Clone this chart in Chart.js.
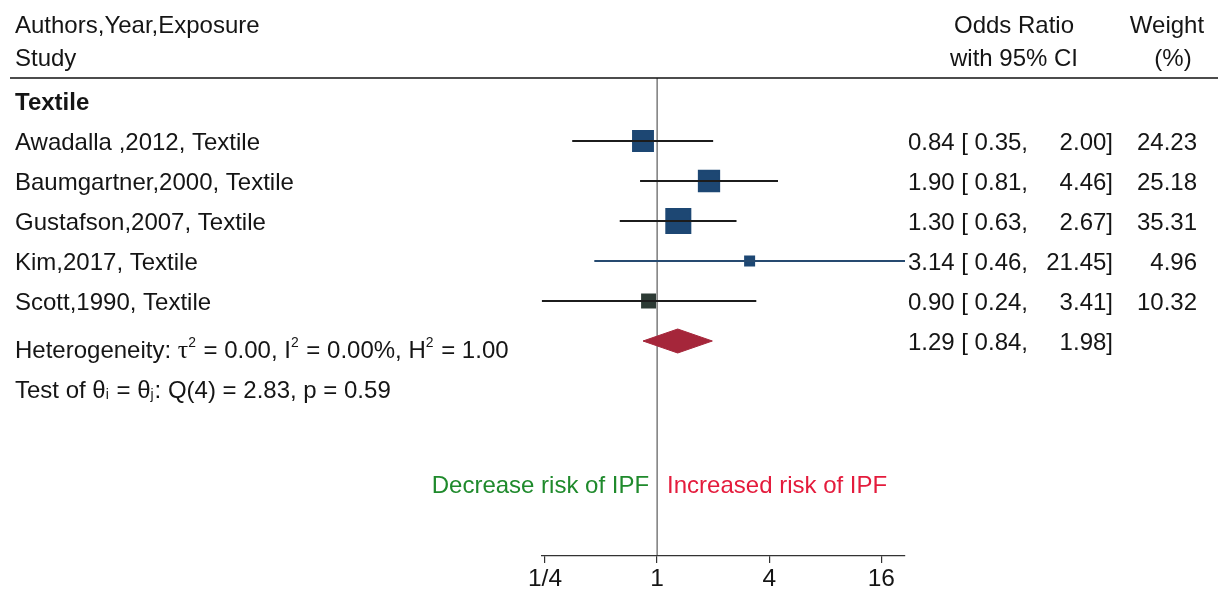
<!DOCTYPE html>
<html>
<head>
<meta charset="utf-8">
<script src="https://cdn.jsdelivr.net/npm/chart.js@4.4.1/dist/chart.umd.min.js"></script>
<style>
  html, body { margin: 0; padding: 0; background: #fff; }
  #wrap { width: 1221px; height: 591px; }
</style>
</head>
<body>
<div id="wrap"><canvas id="forest"></canvas></div>
<script>
// Study level odds ratios (95% CI) and random-effects weights
const studies = ['Awadalla ,2012, Textile', 'Baumgartner,2000, Textile', 'Gustafson,2007, Textile', 'Kim,2017, Textile', 'Scott,1990, Textile'];
const oddsRatio = [0.84, 1.90, 1.30, 3.14, 0.90];
const lowerCI = [0.35, 0.81, 0.63, 0.46, 0.24];
const upperCI = [2.00, 4.46, 2.67, 21.45, 3.41];
const weights = [24.23, 25.18, 35.31, 4.96, 10.32];

// Pooled estimate: lower, estimate, upper
const pooled = [0.84, 1.29, 1.98];

const xTicks = [0.25, 1, 4, 16];
const xTickLabels = ['1/4', '1', '4', '16'];

const groupName = 'Textile';
const heterogeneity = [
  { t: 'Heterogeneity: ' }, { t: 'τ', serif: true }, { t: '2', sup: true },
  { t: ' = 0.00, I' }, { t: '2', sup: true }, { t: ' = 0.00%, H' }, { t: '2', sup: true }, { t: ' = 1.00' }
];
const homogeneityTest = [
  { t: 'Test of θ' }, { t: 'i', sub: true }, { t: ' = θ' }, { t: 'j', sub: true }, { t: ': Q(4) = 2.83, p = 0.59' }
];

const FONT = '"Liberation Sans", Arial, sans-serif';
const SERIF = '"Liberation Serif", "Times New Roman", serif';
const SIZE = 24;
const TEXT = '#151515';
const DY = 2; // optical nudge for 'middle' baseline

// rows on the y scale: 0 = group heading, 1..5 = studies, 6 = pooled, 7 = test line
const studyRows = studies.map((_, i) => i + 1);
const pooledRow = studies.length + 1;

const fmt = v => v.toFixed(2);

function drawRich(ctx, parts, x, y) {
  const base = y + SIZE * 0.36;
  let cx = x;
  parts.forEach(p => {
    const small = p.sup || p.sub;
    const s = small ? SIZE * 0.58 : (p.serif ? SIZE * 1.08 : SIZE);
    ctx.font = `${s}px ${p.serif ? SERIF : FONT}`;
    const dy = p.sup ? -SIZE * 0.36 : p.sub ? SIZE * 0.14 : 0;
    ctx.fillText(p.t, cx, base + dy);
    cx += ctx.measureText(p.t).width + (small ? 1 : 0);
  });
}

const forestText = {
  id: 'forestText',
  beforeDatasetsDraw(chart) {
    const { ctx, chartArea, scales: { x } } = chart;
    const x1 = x.getPixelForValue(1);
    ctx.save();
    // line of no effect
    ctx.strokeStyle = '#3a3a3a';
    ctx.lineWidth = 1;
    ctx.beginPath();
    ctx.moveTo(x1, chartArea.top);
    ctx.lineTo(x1, chartArea.bottom);
    ctx.stroke();
    // rule under the column headers
    ctx.strokeStyle = '#111';
    ctx.lineWidth = 1.6;
    ctx.beginPath();
    ctx.moveTo(10, chartArea.top);
    ctx.lineTo(chart.width - 3, chartArea.top);
    ctx.stroke();
    ctx.restore();
  },
  afterDatasetsDraw(chart) {
    const { ctx, scales: { x, y } } = chart;
    const px = v => y.getPixelForValue(v) + DY;
    const font = (bold) => `${bold ? 'bold ' : ''}${SIZE}px ${FONT}`;
    ctx.save();
    ctx.fillStyle = TEXT;
    ctx.textBaseline = 'middle';

    // column headers
    ctx.font = font();
    ctx.textAlign = 'left';
    ctx.fillText('Authors,Year,Exposure', 15, px(-1.925));
    ctx.fillText('Study', 15, px(-1.1));
    ctx.textAlign = 'center';
    ctx.fillText('Odds Ratio', 1014, px(-1.925));
    ctx.fillText('with 95% CI', 1014, px(-1.1));
    ctx.fillText('Weight', 1167, px(-1.925));
    ctx.fillText('(%)', 1173, px(-1.1));

    // group heading
    ctx.textAlign = 'left';
    ctx.font = font(true);
    ctx.fillText(groupName, 15, px(0));

    // study rows
    ctx.font = font();
    studies.forEach((name, i) => {
      const yy = px(studyRows[i]);
      ctx.textAlign = 'left';
      ctx.fillText(name, 15, yy);
      ctx.textAlign = 'right';
      ctx.fillText(`${fmt(oddsRatio[i])} [ ${fmt(lowerCI[i])},`, 1028, yy);
      ctx.fillText(`${fmt(upperCI[i])}]`, 1113, yy);
      ctx.fillText(fmt(weights[i]), 1197, yy);
    });

    // pooled row
    const yp = px(pooledRow);
    ctx.textAlign = 'right';
    ctx.fillText(`${fmt(pooled[1])} [ ${fmt(pooled[0])},`, 1028, yp);
    ctx.fillText(`${fmt(pooled[2])}]`, 1113, yp);
    ctx.textAlign = 'left';
    drawRich(ctx, heterogeneity, 15, yp);
    drawRich(ctx, homogeneityTest, 15, px(pooledRow + 1));

    // direction of effect
    const x1 = x.getPixelForValue(1);
    const yd = px(9.575);
    ctx.font = font();
    ctx.textAlign = 'right';
    ctx.fillStyle = '#1f8a2c';
    ctx.fillText('Decrease risk of IPF', x1 - 8, yd);
    ctx.textAlign = 'left';
    ctx.fillStyle = '#e41b3c';
    ctx.fillText('Increased risk of IPF', x1 + 10, yd);
    ctx.restore();
  }
};

// confidence interval whiskers, one dataset per study
const ciColors = ['#1c1c1c', '#1c1c1c', '#1c1c1c', '#264a70', '#1c1c1c'];
const ciSets = studies.map((_, i) => ({
  data: [{ x: lowerCI[i], y: studyRows[i] }, { x: upperCI[i], y: studyRows[i] }],
  showLine: true,
  borderColor: ciColors[i],
  borderWidth: 1.8,
  pointRadius: 0
}));

// weight squares: area proportional to weight
const squareColors = ['#1d4773', '#1d4773', '#1d4773', '#1d4773', '#2d3b35'];
const squares = {
  data: oddsRatio.map((v, i) => ({ x: v, y: studyRows[i] })),
  pointStyle: 'rect',
  pointRadius: weights.map(w => 2.86 * Math.sqrt(w)),
  backgroundColor: squareColors,
  borderColor: squareColors,
  borderWidth: 2
};

// pooled diamond
const halfH = 0.3;
const diamond = {
  data: [
    { x: pooled[0], y: pooledRow },
    { x: pooled[1], y: pooledRow - halfH },
    { x: pooled[2], y: pooledRow },
    { x: pooled[1], y: pooledRow + halfH },
    { x: pooled[0], y: pooledRow }
  ],
  showLine: true,
  fill: 'shape',
  tension: 0,
  backgroundColor: '#a5263a',
  borderColor: '#a5263a',
  borderWidth: 1,
  pointRadius: 0
};

new Chart(document.getElementById('forest'), {
  type: 'scatter',
  data: { datasets: [...ciSets, diamond, squares] },
  options: {
    responsive: true,
    maintainAspectRatio: false,
    animation: false,
    layout: { padding: { left: 541.7, right: 316, top: 78, bottom: 0 } },
    plugins: { legend: { display: false }, tooltip: { enabled: false } },
    scales: {
      x: {
        type: 'logarithmic',
        bounds: 'data',
        min: Math.min(...lowerCI),
        max: Math.max(...upperCI),
        afterBuildTicks: scale => { scale.ticks = xTicks.map(v => ({ value: v })); },
        afterFit: scale => { scale.height = 35; },
        ticks: {
          autoSkip: false,
          maxRotation: 0,
          padding: 2,
          color: TEXT,
          font: { family: FONT, size: 24.5 },
          callback: (value, index) => xTickLabels[index]
        },
        grid: { drawOnChartArea: false, drawTicks: true, tickLength: 7, color: '#333', lineWidth: 1.2 },
        border: { display: true, color: '#333', width: 1.2 }
      },
      y: {
        type: 'linear',
        reverse: true,
        min: -0.575,
        max: 11.375,
        display: false
      }
    }
  },
  plugins: [forestText]
});
</script>
</body>
</html>
